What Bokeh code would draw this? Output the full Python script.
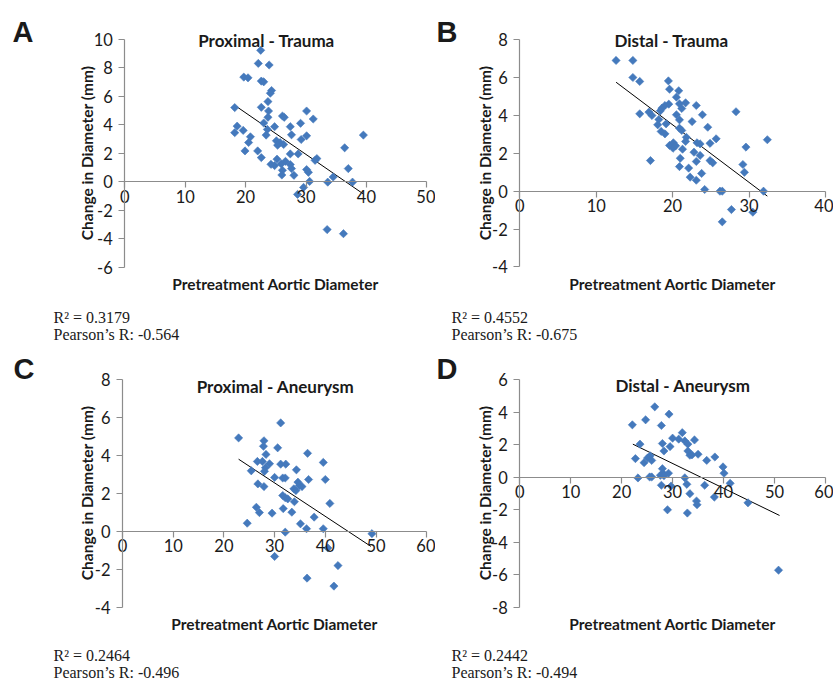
import math
from bokeh.plotting import figure
from bokeh.models import Label, FixedTicker
from bokeh.layouts import row, column
from bokeh.embed import file_html
from bokeh.resources import INLINE

# ---------------- data ----------------
a_x = [22.5, 22.1, 23.9, 19.7, 20.4, 22.6, 23.0, 24.3, 24.1, 23.7, 18.2, 22.6, 23.8, 30.1, 26.1,
       26.4, 31.2, 23.7, 23.0, 29.1, 18.6, 24.8, 27.4, 19.6, 23.6, 18.2, 20.8, 23.4, 27.6, 30.1,
       29.2, 25.1, 25.7, 20.5, 25.3, 26.3, 19.9, 22.0, 27.4, 28.7, 22.6, 25.2, 31.8, 31.5, 36.4,
       39.5, 24.2, 24.8, 25.9, 26.6, 27.4, 26.1, 27.6, 26.0, 28.0, 30.1, 30.4, 37.0, 34.5, 30.6,
       33.6, 37.7, 29.6, 28.6, 33.5, 36.2]
a_y = [9.22, 8.30, 8.19, 7.34, 7.29, 7.06, 7.01, 6.40, 6.21, 5.62, 5.20, 5.22, 4.96, 4.96, 4.61,
       4.52, 4.40, 4.52, 4.12, 4.10, 3.90, 3.86, 3.86, 3.60, 3.67, 3.44, 3.15, 3.27, 3.29, 3.22,
       2.96, 2.87, 2.75, 2.75, 2.56, 2.61, 2.16, 2.16, 1.95, 1.95, 1.69, 1.58, 1.62, 1.50, 2.38,
       3.27, 1.22, 1.13, 1.25, 1.43, 1.20, 0.80, 0.92, 0.47, 0.45, 0.85, 0.66, 0.92, 0.33, 0.02,
       -0.03, -0.03, -0.40, -0.89, -3.36, -3.65]
a_trend_x = [18.2, 39.5]
a_trend_y = [5.36, -0.86]

b_x = [12.6, 14.8, 14.8, 15.7, 19.45, 19.6, 20.8, 20.5, 20.9, 21.7, 23.1, 19.5, 19.0, 18.6, 18.4,
       21.2, 23.9, 28.3, 15.7, 16.9, 17.3, 20.5, 20.9, 22.55, 18.2, 18.05, 19.15, 24.6, 18.5, 19.0,
       21.2, 20.9, 21.8, 21.7, 23.2, 23.6, 24.9, 25.7, 32.4, 19.6, 20.1, 20.06, 20.4, 21.3, 22.8,
       29.6, 23.6, 17.1, 21.0, 23.1, 24.9, 25.25, 29.2, 20.9, 22.1, 23.8, 29.4, 22.3, 23.1, 24.2,
       26.2, 26.5, 31.9, 27.7, 30.5, 26.5]
b_y = [6.91, 6.91, 6.01, 5.80, 5.83, 5.39, 5.31, 4.97, 4.62, 4.67, 4.53, 4.60, 4.53, 4.39, 4.25,
       4.37, 4.04, 4.20, 4.09, 4.18, 4.00, 4.04, 3.77, 3.68, 3.79, 3.51, 3.56, 3.38, 3.16, 3.03,
       3.21, 3.33, 2.85, 2.63, 2.56, 2.50, 2.53, 2.77, 2.72, 2.42, 2.56, 2.27, 2.40, 2.22, 2.06,
       2.33, 1.89, 1.62, 1.74, 1.57, 1.62, 1.50, 1.41, 1.30, 1.22, 0.94, 1.00, 0.74, 0.58, 0.09,
       0.0, 0.0, 0.0, -0.97, -1.11, -1.62]
b_trend_x = [12.6, 32.4]
b_trend_y = [5.76, -0.26]

c_x = [22.9, 31.2, 27.9, 27.8, 30.6, 36.5, 28.3, 26.6, 27.6, 29.0, 28.2, 28.0, 31.2, 32.2, 39.6,
       34.3, 25.4, 30.0, 31.6, 32.1, 36.7, 40.0, 26.7, 27.9, 34.6, 34.9, 35.4, 33.8, 31.6, 32.1,
       32.6, 33.9, 40.9, 26.4, 27.0, 29.5, 31.7, 33.4, 37.8, 24.6, 35.1, 36.3, 39.6, 32.1, 49.2,
       40.5, 30.0, 42.5, 36.4, 41.7, 34.2]
c_y = [4.91, 5.70, 4.76, 4.47, 4.39, 4.10, 4.04, 3.67, 3.67, 3.55, 3.34, 3.15, 3.53, 3.53, 3.62,
       3.23, 3.18, 2.83, 2.80, 2.80, 2.72, 2.72, 2.49, 2.35, 2.58, 2.40, 2.35, 2.23, 1.88, 1.76,
       1.70, 1.55, 1.46, 1.26, 0.98, 0.95, 1.19, 1.00, 0.74, 0.42, 0.39, 0.13, 0.13, -0.05, -0.13,
       -0.88, -1.33, -1.81, -2.47, -2.89, 2.14]
c_trend_x = [22.9, 49.0]
c_trend_y = [3.79, -0.80]

d_x = [26.5, 29.3, 24.7, 22.1, 27.8, 31.9, 30.0, 31.2, 32.4, 34.3, 33.0, 23.6, 28.0, 29.5, 28.3,
       33.0, 33.4, 35.0, 38.3, 22.7, 25.6, 25.1, 24.4, 25.9, 36.7, 39.9, 40.1, 28.0, 28.1, 29.2,
       27.6, 25.9, 25.5, 23.2, 32.4, 41.3, 27.8, 29.7, 32.8, 36.3, 33.4, 38.2, 34.7, 34.8, 44.8,
       29.0, 32.9, 50.8, 33.8, 28.3]
d_y = [4.34, 3.89, 3.54, 3.23, 3.19, 2.75, 2.41, 2.35, 2.24, 2.30, 2.04, 2.04, 2.08, 1.89, 1.62,
       1.62, 1.36, 1.42, 1.25, 1.15, 1.32, 1.19, 0.90, 1.04, 1.04, 0.64, 0.25, 0.53, 0.25, 0.25,
       0.12, 0.02, 0.02, -0.04, -0.03, -0.37, -0.49, -0.54, -0.43, -0.49, -1.01, -1.22, -1.46,
       -1.69, -1.57, -2.00, -2.20, -5.72, 1.38, 0.10]
d_trend_x = [22.2, 51.0]
d_trend_y = [2.04, -2.35]

titles = ["Proximal - Trauma", "Distal - Trauma", "Proximal - Aneurysm", "Distal - Aneurysm"]
letters = ["A", "B", "C", "D"]
r2_texts = ["R\u00b2 = 0.3179", "R\u00b2 = 0.4552", "R\u00b2 = 0.2464", "R\u00b2 = 0.2442"]
pearson_texts = ["Pearson\u2019s R: -0.564", "Pearson\u2019s R: -0.675",
                 "Pearson\u2019s R: -0.496", "Pearson\u2019s R: -0.494"]
x_ticks = [[0, 10, 20, 30, 40, 50], [0, 10, 20, 30, 40],
           [0, 10, 20, 30, 40, 50, 60], [0, 10, 20, 30, 40, 50, 60]]
y_ticks = [[-6, -4, -2, 0, 2, 4, 6, 8, 10], [-4, -2, 0, 2, 4, 6, 8],
           [-4, -2, 0, 2, 4, 6, 8], [-8, -6, -4, -2, 0, 2, 4, 6]]
x_label = "Pretreatment Aortic Diameter"
y_label = "Change in Diameter (mm)"

MARKER = "#4479BC"
AXIS = "#8C8C8C"
TXT = "#1a1a1a"

# ---------------- layout (page pixels) ----------------
# figure box: left, top, width, height ; scale: page x of x=0, px per x unit, page y of y=0, px per y unit
boxes = [(0, 0, 435, 343), (435, 0, 398, 343), (0, 343, 435, 338), (435, 343, 398, 338)]
scales = [(124.3, 6.04, 181.2, 14.25), (519.3, 7.64, 190.7, 18.92),
          (122.0, 5.07, 530.7, 19.0), (519.3, 5.093, 476.8, 16.24)]
# text anchors in page pixels (r2 = first line baseline, gap = line spacing)
text_pos = [
    dict(letter=(12, 31), title=(266, 39.5), xlab=(275, 283), ylab=(86, 152.5), r2=(53, 317), gap=17),
    dict(letter=(436, 31), title=(671, 39.5), xlab=(672, 283), ylab=(484, 152.5), r2=(451, 317), gap=17),
    dict(letter=(13, 368), title=(275, 385.5), xlab=(274, 623), ylab=(86, 492.5), r2=(53, 655), gap=16.5),
    dict(letter=(436, 368), title=(682.5, 385), xlab=(672, 623), ylab=(484, 492.5), r2=(451, 655), gap=16.5),
]


def make_panel(i, xs, ys, tx, ty):
    fl, ft, W, H = boxes[i]
    x0, kx, y0, ky = scales[i]
    xs0 = (fl - x0) / kx
    ys1 = (y0 - ft) / ky
    p = figure(width=W, height=H,
               x_range=(xs0, xs0 + W / kx), y_range=(ys1 - H / ky, ys1),
               output_backend="svg", toolbar_location=None,
               min_border_left=0, min_border_right=0, min_border_top=0, min_border_bottom=0)
    p.xgrid.visible = False
    p.ygrid.visible = False
    p.outline_line_color = None
    p.background_fill_color = "white"
    p.border_fill_color = "white"

    xt, yt = x_ticks[i], y_ticks[i]
    p.xaxis.fixed_location = 0
    p.yaxis.fixed_location = 0
    p.xaxis.bounds = (xt[0], xt[-1])
    p.yaxis.bounds = (yt[0], yt[-1])
    p.xaxis.ticker = FixedTicker(ticks=xt)
    p.yaxis.ticker = FixedTicker(ticks=yt)
    p.xaxis.major_label_overrides = {t: str(t) for t in xt}
    p.yaxis.major_label_overrides = {t: str(t) for t in yt}
    for ax in (p.xaxis, p.yaxis):
        ax.axis_line_color = AXIS
        ax.axis_line_width = 1.2
        ax.major_tick_line_color = AXIS
        ax.major_tick_line_width = 1.2
        ax.major_tick_in = 0
        ax.major_tick_out = 6
        ax.minor_tick_line_color = None
        ax.major_label_text_font = "Lato"
        ax.major_label_text_font_size = "16.5px"
        ax.major_label_text_color = TXT
    p.xaxis.major_label_standoff = 2
    p.yaxis.major_label_standoff = 6

    p.line(tx, ty, line_color="black", line_width=1)
    p.scatter(xs, ys, marker="square", angle=math.pi / 4, size=5.8, fill_color=MARKER,
              line_color=MARKER, line_width=0.6)

    bottom = ft + H

    def add(pos, text, size, font="Lato", bold=False, align="left", angle=0.0, dy=0.0):
        p.add_layout(Label(x=pos[0] - fl, y=bottom - pos[1] - dy, x_units="screen",
                           y_units="screen", text=text,
                           text_font=font, text_font_size=size,
                           text_font_style="bold" if bold else "normal",
                           text_align=align, text_baseline="alphabetic",
                           angle=angle, text_color=TXT))

    tp = text_pos[i]
    add(tp["letter"], letters[i], "29px", font="Liberation Sans", bold=True)
    add(tp["title"], titles[i], "17px", bold=True, align="center")
    add(tp["xlab"], x_label, "15.5px", bold=True, align="center")
    add(tp["ylab"], y_label, "15.5px", bold=True, align="center", angle=math.pi / 2)
    add(tp["r2"], r2_texts[i], "16px", font="Liberation Serif")
    add(tp["r2"], pearson_texts[i], "16px", font="Liberation Serif", dy=tp["gap"])
    return p


data = [(a_x, a_y, a_trend_x, a_trend_y), (b_x, b_y, b_trend_x, b_trend_y),
        (c_x, c_y, c_trend_x, c_trend_y), (d_x, d_y, d_trend_x, d_trend_y)]

panels = [make_panel(i, *data[i]) for i in range(4)]

layout = column(row(panels[0], panels[1]), row(panels[2], panels[3]))

open("out.html", "w").write(file_html(layout, INLINE))
